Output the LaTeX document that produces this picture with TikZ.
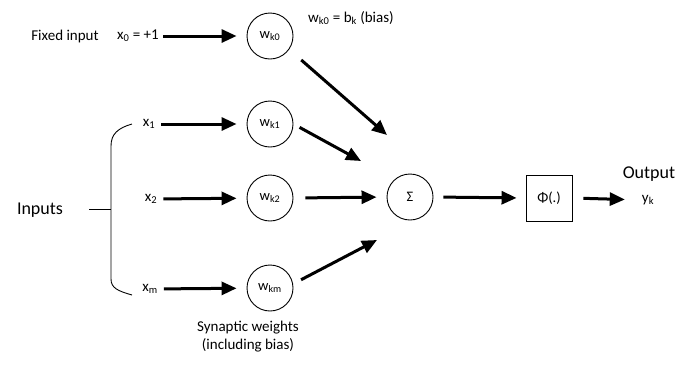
\documentclass[tikz,border=0pt]{standalone}
\usepackage{fontspec}
\setmainfont{Carlito}
\usetikzlibrary{arrows.meta}
\tikzset{
  wc/.style={draw, circle, line width=0.9pt, minimum size=46pt, inner sep=0pt, font=\fontsize{14.5}{16}\selectfont},
  lbl/.style={inner sep=2pt, font=\fontsize{15}{18}\selectfont},
  big/.style={inner sep=2pt, font=\fontsize{18}{21}\selectfont},
  arr/.style={line width=3pt, -{Triangle[length=15pt,width=13pt]}},
  thin/.style={line width=0.9pt},
}
\begin{document}
\begin{tikzpicture}[x=1pt,y=-1pt]
\useasboundingbox (0,0) rectangle (688,365);
% weight nodes
\node[wc] (wk0) at (270,36) {w\textsubscript{k0}};
\node[wc] (wk1) at (270,124) {w\textsubscript{k1}};
\node[wc] (wk2) at (270,198) {w\textsubscript{k2}};
\node[wc] (wkm) at (270,288) {w\textsubscript{km}};
\node[wc] (sum) at (410,197) {Σ};
\node[draw, line width=0.9pt, minimum size=46pt, inner sep=0pt, font=\fontsize{14.5}{16}\selectfont] (phi) at (549,198) {Φ(.)};
% labels
\node[lbl] (fixed) at (65,36) {Fixed input};
\node[lbl] (x0) at (138,36) {x\textsubscript{0} = +1};
\node[lbl] (bias) at (351,18) {w\textsubscript{k0} = b\textsubscript{k} (bias)};
\node[lbl] (x1) at (149,124) {x\textsubscript{1}};
\node[lbl] (x2) at (151,199) {x\textsubscript{2}};
\node[lbl] (xm) at (150,289) {x\textsubscript{m}};
\node[big] (inputs) at (40,210) {Inputs};
\node[big] (output) at (649,174) {Output};
\node[lbl, inner sep=0pt] (yk) at (648,200) {y\textsubscript{k}};
\node[lbl, align=center] (syn) at (248,337) {Synaptic weights\\(including bias)};
% end points near the summing node
\coordinate (s0) at (387,135);
\coordinate (s1) at (361,161);
\coordinate (s3) at (377,240);
% input arrows
\draw[arr, shorten <=2pt, shorten >=10pt] (x0) -- (wk0);
\draw[arr, shorten <=4pt, shorten >=10pt] (x1) -- (wk1);
\draw[arr, shorten <=4pt, shorten >=10pt] (x2) -- (wk2);
\draw[arr, shorten <=4pt, shorten >=10pt] (xm) -- (wkm);
% into sum
\draw[arr, shorten <=16pt] (wk0.-35) -- (s0);
\draw[arr, shorten <=7pt] (wk1.east) -- (s1);
\draw[arr, shorten <=12pt, shorten >=10pt] (wk2.east) -- (sum.west);
\draw[arr, shorten <=9pt] (wkm.10) -- (s3);
% sum -> phi -> y
\draw[arr, shorten <=10pt, shorten >=9pt] (sum.east) -- (phi.west);
\draw[arr, shorten <=11pt, shorten >=17pt] (phi.east) -- (yk.west);
% brace
\coordinate (brL) at (89,209);
\coordinate (brR) at (111,209);
\draw[thin] (132,124) .. controls (118,128) and (111,134) .. (111,146) -- (111,279) .. controls (111,288) and (118,291) .. (132,295);
\draw[thin] (brL) -- (brR);
\end{tikzpicture}
\end{document}
